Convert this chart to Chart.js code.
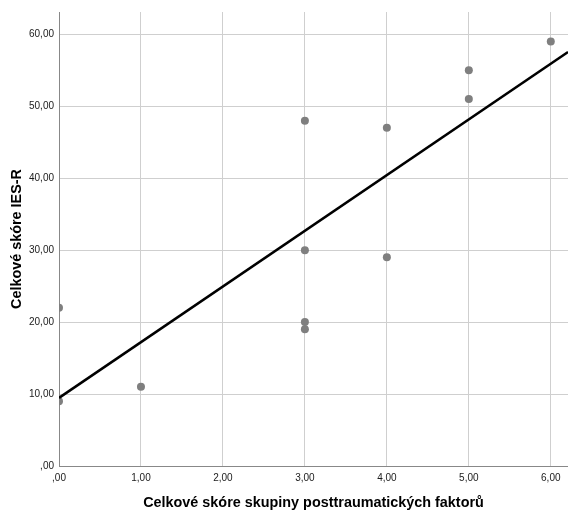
<!DOCTYPE html>
<html>
<head>
<meta charset="utf-8">
<script src="https://cdn.jsdelivr.net/npm/chart.js@4/dist/chart.umd.min.js"></script>
<style>
  html, body { margin: 0; padding: 0; background: #fff; }
  #wrap { width: 568px; height: 510px; }
</style>
</head>
<body>
<div id="wrap"><canvas id="myChart" width="568" height="510"></canvas></div>
<script>
// points
const factorScores = [0, 0, 1, 3, 3, 3, 3, 4, 4, 5, 5, 6]
const iesScores = [22, 9, 11, 48, 30, 20, 19, 47, 29, 55, 51, 59]

const xTicks = [0, 1, 2, 3, 4, 5, 6]
const xTickLabels = [',00', '1,00', '2,00', '3,00', '4,00', '5,00', '6,00']
const yTicks = [0, 10, 20, 30, 40, 50, 60]
const yTickLabels = [',00', '10,00', '20,00', '30,00', '40,00', '50,00', '60,00']

const xMax = 6.21
const yMax = 63.1

// least squares fit line
let n = factorScores.length
let mx = factorScores.reduce((a, b) => a + b, 0) / n
let my = iesScores.reduce((a, b) => a + b, 0) / n
let sxy = 0, sxx = 0
for (let i = 0; i < n; i++) {
    sxy += (factorScores[i] - mx) * (iesScores[i] - my)
    sxx += (factorScores[i] - mx) * (factorScores[i] - mx)
}
let slope = sxy / sxx
let intercept = my - slope * mx

let points = factorScores.map((x, i) => ({x: x, y: iesScores[i]}))
let fitLine = [{x: 0, y: intercept}, {x: xMax, y: intercept + slope * xMax}]

const font = 'Arial, "Liberation Sans", sans-serif'

new Chart(document.getElementById('myChart'), {
    type: 'scatter',
    data: {
        datasets: [
            {
                data: points,
                backgroundColor: '#7f7f7f',
                borderWidth: 0,
                pointRadius: 4,
                clip: 0,
                order: 2
            },
            {
                type: 'line',
                data: fitLine,
                borderColor: '#000',
                borderWidth: 2.5,
                pointRadius: 0,
                fill: false,
                clip: 0,
                order: 1
            }
        ]
    },
    options: {
        responsive: false,
        animation: false,
        layout: {autoPadding: false, padding: {left: 0, right: 0, top: 12, bottom: 0}},
        plugins: {legend: {display: false}, tooltip: {enabled: false}},
        scales: {
            x: {
                type: 'linear',
                min: 0,
                max: xMax,
                afterBuildTicks: s => { s.ticks = xTicks.map(v => ({value: v})) },
                afterFit: s => { s.height = 44; s.paddingLeft = 0; s.paddingRight = 0 },
                grid: {color: '#cfcfcf', drawTicks: false},
                border: {color: '#888', width: 1},
                ticks: {
                    padding: 6,
                    maxRotation: 0,
                    color: '#1a1a1a',
                    font: {family: font, size: 10},
                    callback: (v) => xTickLabels[xTicks.indexOf(v)]
                },
                title: {
                    display: true,
                    text: 'Celkové skóre skupiny posttraumatických faktorů',
                    color: '#000',
                    font: {family: font, size: 14.4, weight: 'bold', lineHeight: 1},
                    padding: {top: 0, bottom: 0}
                }
            },
            y: {
                min: 0,
                max: yMax,
                afterBuildTicks: s => { s.ticks = yTicks.map(v => ({value: v})) },
                afterFit: s => { s.width = 59; s.paddingTop = 0; s.paddingBottom = 0 },
                grid: {color: '#cfcfcf', drawTicks: false},
                border: {color: '#888', width: 1},
                ticks: {
                    padding: 5,
                    color: '#1a1a1a',
                    font: {family: font, size: 10},
                    callback: (v) => yTickLabels[yTicks.indexOf(v)]
                },
                title: {
                    display: true,
                    text: 'Celkové skóre IES-R',
                    color: '#000',
                    font: {family: font, size: 14.4, weight: 'bold', lineHeight: 1},
                    padding: {top: 10, bottom: 0}
                }
            }
        }
    }
})
</script>
</body>
</html>
